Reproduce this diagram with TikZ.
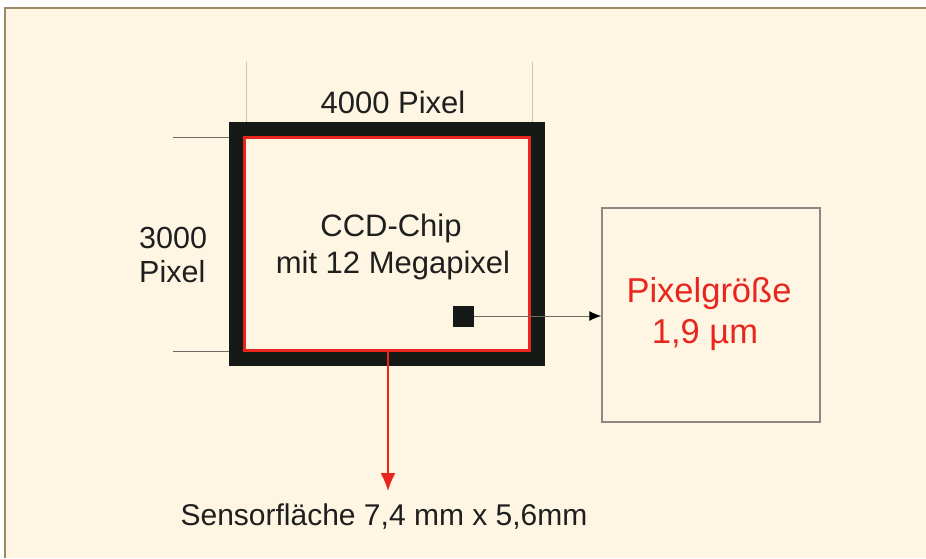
\documentclass[tikz,border=0pt]{standalone}
\usepackage{fontspec}
\setmainfont{Liberation Sans}
\usetikzlibrary{arrows.meta}
\definecolor{cream}{HTML}{FEF6E2}
\definecolor{frameb}{HTML}{9C8A66}
\definecolor{chipblack}{HTML}{151A17}
\definecolor{chipred}{HTML}{E8261E}
\definecolor{thin}{HTML}{6E6B62}
\definecolor{faint}{HTML}{C9C3B2}
\tikzset{
  lbl/.style={font=\fontsize{31}{38}\selectfont, text=black!88, inner sep=0pt, anchor=base},
  redlbl/.style={font=\fontsize{34.5}{41}\selectfont, text=chipred, inner sep=0pt, anchor=base},
  thinline/.style={draw=thin, line width=1pt},
  faintline/.style={draw=faint, line width=1pt},
}
\begin{document}
\begin{tikzpicture}[x=1pt,y=-1pt]
\useasboundingbox (0,0) rectangle (926,558);
\fill[white] (0,0) rectangle (926,558);
\fill[cream] (5,8) rectangle (926,558);
\draw[frameb, line width=2.5pt] (5,558) -- (5,8) -- (926,8);
% dimension guide lines
\coordinate (tl1) at (246,62); \coordinate (tl2) at (246,122);
\coordinate (tr1) at (532,62); \coordinate (tr2) at (532,122);
\draw[faintline] (tl1) -- (tl2);
\draw[faintline] (tr1) -- (tr2);
\coordinate (lh1) at (173,137); \coordinate (lh2) at (230,137);
\coordinate (lb1) at (173,351); \coordinate (lb2) at (230,351);
\draw[thinline] (lh1) -- (lh2);
\draw[thinline] (lb1) -- (lb2);
% chip
\node[draw=chipblack, line width=14pt, minimum width=302pt, minimum height=230pt, inner sep=0pt] (chip) at (387,244) {};
\node[draw=chipred, line width=3pt, minimum width=285pt, minimum height=213pt, inner sep=0pt] (chipin) at (387,244) {};
% labels
\node[lbl] (w) at (393,113) {4000 Pixel};
\node[lbl, anchor=base west, font=\fontsize{30.5}{36}\selectfont] (h1) at (139,248) {3000};
\node[lbl, anchor=base west, font=\fontsize{30.5}{36}\selectfont] (h2) at (139,282) {Pixel};
\node[lbl] (c1) at (391,236) {CCD-Chip};
\node[lbl] (c2) at (393,273) {mit 12 Megapixel};
% pixel square
\node[fill=chipblack, minimum size=21pt, inner sep=0pt] (sq) at (463,316) {};
% pixel box
\node[draw=thin!80, line width=1.5pt, minimum width=218pt, minimum height=214pt, inner sep=0pt] (box) at (711,315) {};
\node[redlbl] (p1) at (709,302) {Pixelgröße};
\node[redlbl] (p2) at (705,343) {1,9 µm};
\draw[thinline, -{Latex[length=12pt,width=10pt,fill=black,color=black]}] (sq.east) -- (sq.east -| box.west);
% sensor label
\node[lbl, font=\fontsize{30}{36}\selectfont] (s) at (384,525) {Sensorfläche 7,4 mm x 5,6mm};
\coordinate (rtop) at (388,352);
\coordinate (rbot) at (388,491);
\draw[chipred, line width=1.5pt, -{Latex[length=18pt,width=15pt]}] (rtop) -- (rbot);
\end{tikzpicture}
\end{document}
